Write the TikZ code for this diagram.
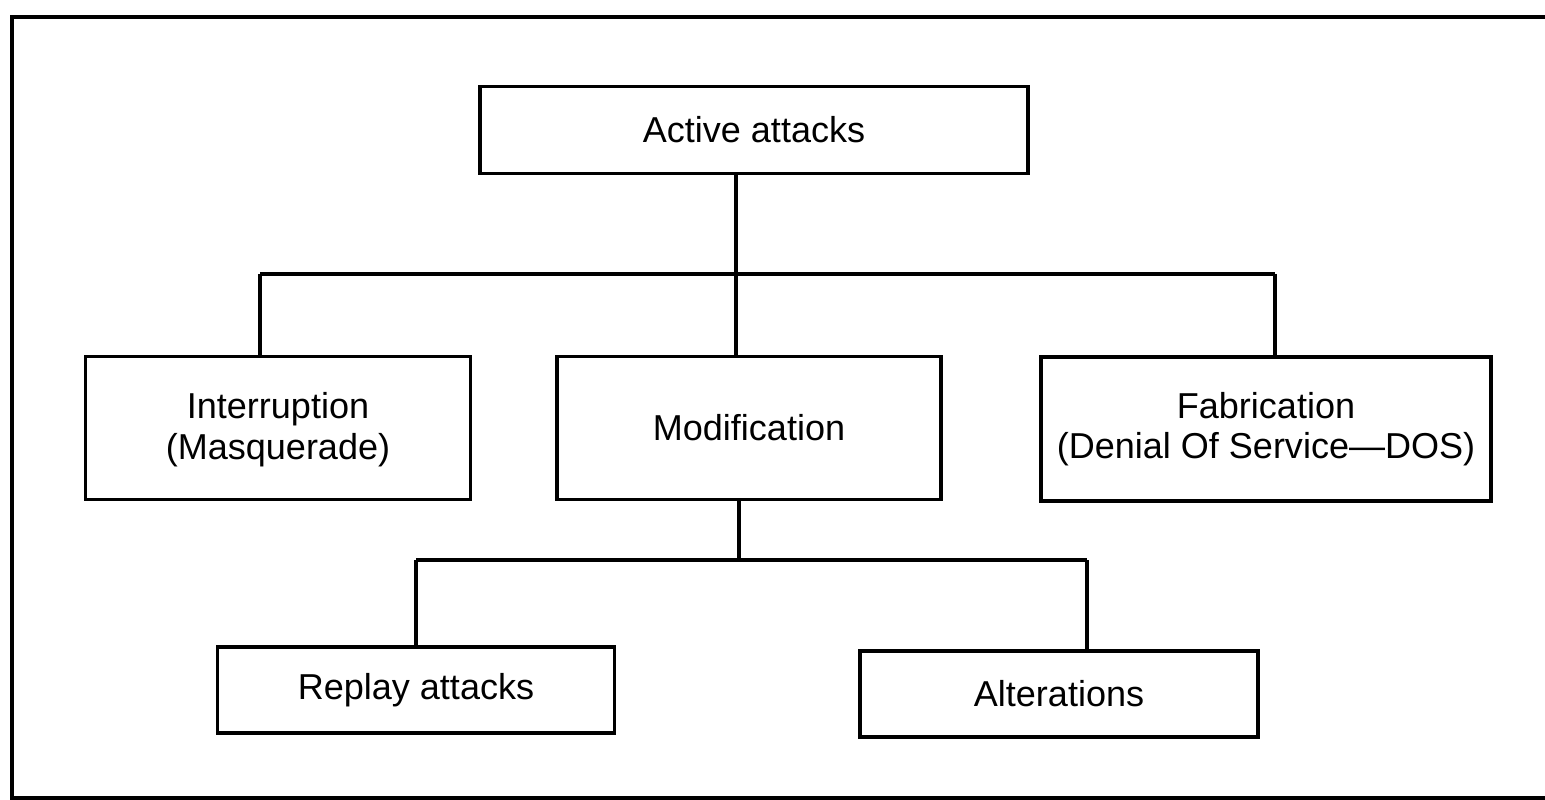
\documentclass[tikz,border=0pt]{standalone}
\usepackage{fontspec}
\setmainfont{Liberation Sans}
\usetikzlibrary{positioning}

\begin{document}
\begin{tikzpicture}[
  x=0.02cm, y=-0.02cm,
  box/.style={draw, line width=2pt, align=center, inner sep=0pt,
    font=\fontsize{20.5}{22.8}\selectfont},
  twoline/.style={box, text depth=0.45cm},
  link/.style={line width=1.8pt}
]
\useasboundingbox (0,0) rectangle (1545,800);
% outer frame (right side cut off)
\draw[line width=2.2pt] (1545,17) -- (12,17) -- (12,798) -- (1545,798);

\node[box, minimum width=10.96cm, minimum height=1.74cm] (active) at (754,130)
  {Active attacks};

\node[box, minimum width=7.7cm, minimum height=2.86cm] (inter) at (278,428)
  {\\[-6pt]Interruption\\(Masquerade)};
\node[box, minimum width=7.68cm, minimum height=2.86cm] (modif) at (749,428)
  {Modification};
\node[box, minimum width=9.0cm, minimum height=2.88cm] (fabr) at (1266,429)
  {\\[-8pt]Fabrication\\(Denial Of Service---DOS)};

\node[box, minimum width=7.94cm, minimum height=1.72cm] (replay) at (416,690)
  {Replay attacks};
\node[box, minimum width=7.96cm, minimum height=1.72cm] (alter) at (1059,694)
  {Alterations};

% upper tree
\coordinate (bus1) at (736,274);
\coordinate (bus1l) at (260,274);
\coordinate (bus1r) at (1275,274);
\draw[link] (active.south -| bus1) -- (bus1);
\draw[link] (bus1l) -- (bus1r);
\draw[link] (bus1l) -- (inter.north -| bus1l);
\draw[link] (bus1) -- (modif.north -| bus1);
\draw[link] (bus1r) -- (fabr.north -| bus1r);

% lower tree
\coordinate (bus2) at (739,560);
\coordinate (bus2l) at (416,560);
\coordinate (bus2r) at (1087,560);
\draw[link] (modif.south -| bus2) -- (bus2);
\draw[link] (bus2l) -- (bus2r);
\draw[link] (bus2l) -- (replay.north -| bus2l);
\draw[link] (bus2r) -- (alter.north -| bus2r);
\end{tikzpicture}
\end{document}
